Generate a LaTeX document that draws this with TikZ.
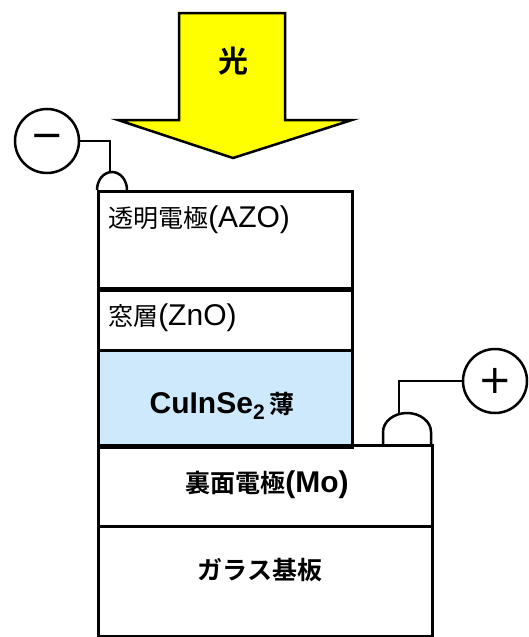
\documentclass[tikz,border=0pt]{standalone}
\usepackage{fontspec}
\setmainfont{Noto Sans CJK JP}[BoldFont={Noto Sans CJK JP Bold}]
\newfontfamily\dejavu{DejaVu Sans}
\newfontfamily\latfont{Liberation Sans}
\newcommand\Lat[1]{{\latfont\fontsize{30}{30}\selectfont #1}}
\definecolor{cisblue}{HTML}{CDE9FB}
\definecolor{arrowyellow}{HTML}{FFFF00}
\begin{document}
\begin{tikzpicture}[x=1pt,y=-1pt,line width=2.5pt,
  layer/.style={draw=black,line width=2.5pt,fill=white,inner sep=0pt,anchor=north west},
  plaintext/.style={font=\fontsize{25}{25}\selectfont,inner sep=0pt},
  boldtext/.style={font=\fontsize{25}{25}\selectfont\bfseries,inner sep=0pt},
  terminal/.style={draw=black,circle,line width=2.5pt,minimum size=64pt,inner sep=0pt,font=\dejavu\fontsize{40}{40}\selectfont},
  wire/.style={draw=black,line width=2.5pt}]
\useasboundingbox (0,0) rectangle (528,637);
% light arrow
\draw[fill=arrowyellow,line join=miter] (179,13) -- (285,13) -- (285,120) -- (352,120) -- (233,158) -- (118,120) -- (179,120) -- cycle;
\node[boldtext,font=\fontsize{30}{30}\selectfont\bfseries] (light) at (233,61) {光};
% contact bumps
\draw (97,190) arc[start angle=180,end angle=360,x radius=15,y radius=18];
\coordinate (mtop) at (110,173);
\draw (383,444) -- (383,432) arc[start angle=180,end angle=360,x radius=24,y radius=19] -- (431,444);
\coordinate (ptop) at (399,414);
% layers
\node[layer,minimum width=254pt,minimum height=97pt] (azo) at (97,190) {};
\node[layer,minimum width=254pt,minimum height=62pt] (zno) at (97,287) {};
\node[layer,fill=cisblue,minimum width=254pt,minimum height=95pt] (cis) at (97,349) {};
\node[layer,minimum width=334pt,minimum height=81pt] (mo) at (97,444) {};
\node[layer,minimum width=334pt,minimum height=110pt] (glass) at (97,525) {};
\draw[line width=4.5pt] (azo.south west) -- (azo.south east);
\draw[line width=4.5pt] (cis.south west) -- (cis.south east);
% labels
\node[plaintext,anchor=west] (azot) at (107,220) {透明電極\Lat{(AZO)}};
\node[plaintext,anchor=west] (znot) at (107,318) {窓層\Lat{(ZnO)}};
\node[boldtext] (cist) at (222,406) {\Lat{CuInSe\textsubscript{2}}\,薄};
\node[boldtext] (mot) at (267,485) {裏面電極\Lat{(Mo)}};
\node[boldtext] (glasst) at (260,570) {ガラス基板};
% terminals
\node[terminal] (minus) at (47,141) {−};
\node[terminal] (plus) at (495,381) {+};
\draw[wire] (minus.east) -| (mtop);
\draw[wire] (plus.west) -| (ptop);
\end{tikzpicture}
\end{document}
